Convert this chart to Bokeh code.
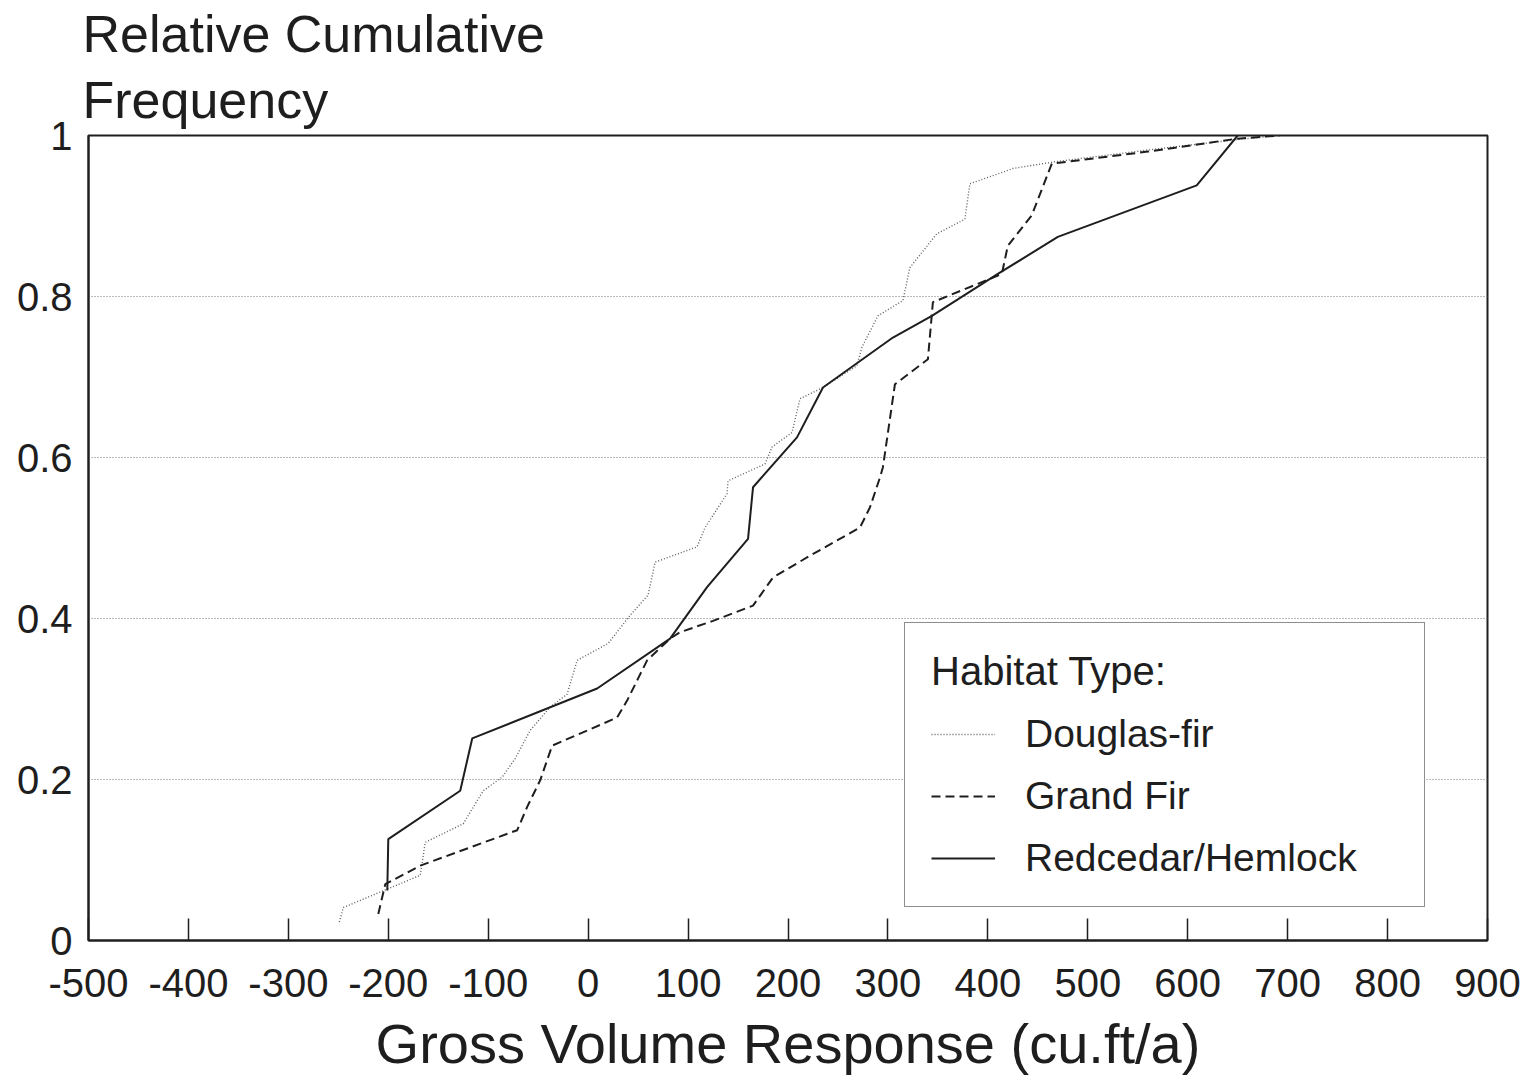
from bokeh.plotting import figure
from bokeh.models import (Range1d, FixedTicker, Legend, LegendItem, Title)
from bokeh.embed import file_html
from bokeh.resources import INLINE

# ---- data ----
df_x = [-249, -245, -168, -163, -125, -105, -86, -73, -58, -38, -21, -11, 20, 42, 60, 67,
        109, 117, 139, 140, 177, 184, 204, 212, 235, 269, 274, 290, 315, 322, 349, 377,
        382, 425, 465, 560, 650, 692]
df_y = [0.023, 0.041, 0.081, 0.122, 0.145, 0.186, 0.203, 0.226, 0.261, 0.290, 0.306, 0.348,
        0.369, 0.404, 0.429, 0.470, 0.489, 0.513, 0.555, 0.571, 0.592, 0.613, 0.631, 0.673,
        0.687, 0.714, 0.737, 0.776, 0.795, 0.836, 0.878, 0.896, 0.940, 0.959, 0.967, 0.982,
        0.995, 1.0]

gf_x = [-210, -203, -168, -71, -61, -48, -36, 29, 39, 59, 82, 92, 125, 165, 185, 222, 272,
        282, 292, 295, 307, 340, 345, 414, 420, 444, 464, 560, 649, 692]
gf_y = [0.033, 0.070, 0.093, 0.137, 0.166, 0.199, 0.242, 0.277, 0.298, 0.348, 0.375, 0.383,
        0.397, 0.416, 0.451, 0.478, 0.513, 0.538, 0.575, 0.588, 0.691, 0.722, 0.793, 0.828,
        0.863, 0.901, 0.965, 0.980, 0.996, 1.0]

rh_x = [-201, -200, -128, -116, 9, 82, 119, 160, 165, 209, 235, 305, 344, 410, 470, 609, 650]
rh_y = [0.062, 0.126, 0.186, 0.251, 0.313, 0.375, 0.439, 0.499, 0.563, 0.625, 0.687, 0.749,
        0.776, 0.828, 0.874, 0.938, 1.0]

series_names = ["Douglas-fir", "Grand Fir", "Redcedar/Hemlock"]
x_ticks = list(range(-500, 1000, 100))
x_tick_labels = [str(t) for t in x_ticks]          # ASCII hyphen, as in the reference
y_ticks = [0, 0.2, 0.4, 0.6, 0.8, 1]
y_tick_labels = ["0", "0.2", "0.4", "0.6", "0.8", "1"]
legend_title = "Habitat Type:"
title_lines = ["Relative Cumulative", "Frequency"]
x_label = "Gross Volume Response (cu.ft/a)"

FONT = "Liberation Sans"
INK = "#1e1e1e"

p = figure(width=1530, height=1078, output_backend="svg", toolbar_location=None,
           x_range=Range1d(-500, 900), y_range=Range1d(0, 1),
           min_border_left=88, min_border_right=43, min_border_top=135,
           min_border_bottom=138)

p.background_fill_color = "white"
p.border_fill_color = "white"
p.outline_line_color = INK
p.outline_line_width = 2

# titles (first added sits nearest the frame)
p.add_layout(Title(text=title_lines[1], align="left", text_font=FONT,
                   text_font_size="52px", text_font_style="normal",
                   text_color=INK, offset=-6, standoff=13), "above")
p.add_layout(Title(text=title_lines[0], align="left", text_font=FONT,
                   text_font_size="52px", text_font_style="normal",
                   text_color=INK, offset=-6, standoff=0), "above")

# axes
xa = p.xaxis[0]
xa.ticker = FixedTicker(ticks=x_ticks)
xa.major_label_overrides = {t: l for t, l in zip(x_ticks, x_tick_labels)}
xa.major_tick_in = 22
xa.major_tick_out = 0
xa.minor_tick_in = 0
xa.minor_tick_out = 0
xa.major_tick_line_color = INK
xa.major_tick_line_width = 1.5
xa.axis_line_color = INK
xa.axis_line_width = 2
xa.major_label_text_font = FONT
xa.major_label_text_font_size = "40px"
xa.major_label_text_color = INK
xa.major_label_standoff = 28
xa.axis_label = x_label
xa.axis_label_text_font = FONT
xa.axis_label_text_font_size = "56px"
xa.axis_label_text_font_style = "normal"
xa.axis_label_text_color = INK
xa.axis_label_standoff = 12

ya = p.yaxis[0]
ya.ticker = FixedTicker(ticks=y_ticks)
ya.major_label_overrides = {t: l for t, l in zip(y_ticks, y_tick_labels)}
ya.major_tick_in = 0
ya.major_tick_out = 0
ya.minor_tick_in = 0
ya.minor_tick_out = 0
ya.axis_line_color = INK
ya.axis_line_width = 2
ya.major_label_text_font = FONT
ya.major_label_text_font_size = "40px"
ya.major_label_text_color = INK
ya.major_label_standoff = 16

p.xgrid.visible = False
p.ygrid.grid_line_color = "#777777"
p.ygrid.grid_line_dash = "1 2"
p.ygrid.grid_line_width = 1.2

r_df = p.line(df_x, df_y, line_color="#5f5f5f", line_width=1.4, line_dash="1 2")
r_gf = p.line(gf_x, gf_y, line_color=INK, line_width=2, line_dash="9 5")
r_rh = p.line(rh_x, rh_y, line_color=INK, line_width=2)

legend = Legend(
    items=[LegendItem(label=series_names[0], renderers=[r_df]),
           LegendItem(label=series_names[1], renderers=[r_gf]),
           LegendItem(label=series_names[2], renderers=[r_rh])],
    location=(816, 33),
    title=legend_title,
    title_text_font=FONT, title_text_font_size="40px", title_text_font_style="normal",
    title_text_color=INK, title_standoff=18,
    label_text_font=FONT, label_text_font_size="39px", label_text_color=INK,
    padding=26, spacing=18, label_height=40, glyph_height=40, glyph_width=64,
    label_standoff=30, label_width=373,
    border_line_color=INK, border_line_width=1.5,
    background_fill_color="white", background_fill_alpha=1.0,
)
p.add_layout(legend, "center")

open("out.html", "w").write(file_html(p, INLINE))
